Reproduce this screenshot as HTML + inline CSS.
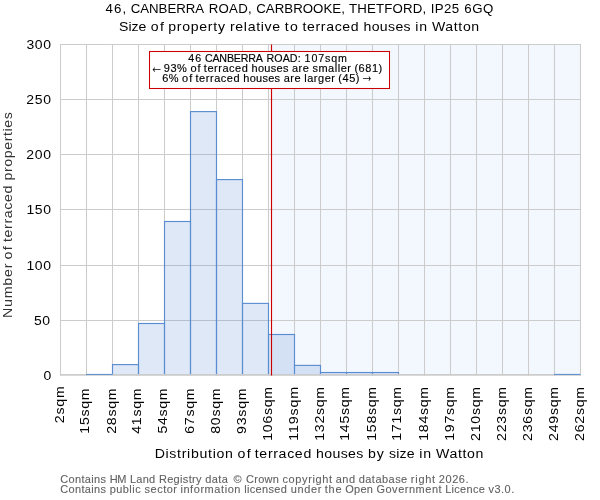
<!DOCTYPE html>
<html lang="en">
<head>
<meta charset="utf-8">
<title>Size of property relative to terraced houses in Watton</title>
<style>
html,body{margin:0;padding:0;background:#fff;}
body{width:600px;height:500px;overflow:hidden;font-family:"Liberation Sans", sans-serif;}
svg{display:block;will-change:transform;}
svg text{font-family:"Liberation Sans", sans-serif;}
</style>
</head>
<body>
<svg width="600" height="500" viewBox="0 0 600 500">
<rect x="0" y="0" width="600" height="500" fill="#ffffff"/>
<rect x="272.2" y="44.5" width="308.3" height="330.5" fill="rgba(100,149,237,0.075)"/>
<path d="M60.5 44.0V375.8M86.5 44.0V375.8M112.5 44.0V375.8M138.5 44.0V375.8M164.5 44.0V375.8M190.5 44.0V375.8M216.5 44.0V375.8M242.5 44.0V375.8M268.5 44.0V375.8M294.5 44.0V375.8M320.5 44.0V375.8M346.5 44.0V375.8M372.5 44.0V375.8M398.5 44.0V375.8M424.5 44.0V375.8M450.5 44.0V375.8M476.5 44.0V375.8M502.5 44.0V375.8M528.5 44.0V375.8M554.5 44.0V375.8M580.5 44.0V375.8M60.0 320.5H581.0M60.0 265.5H581.0M60.0 209.5H581.0M60.0 154.5H581.0M60.0 99.5H581.0M60.0 44.5H581.0" stroke="#cccccc" stroke-width="1.05" fill="none"/>
<rect x="112.5" y="364.60" width="26.0" height="10.00" fill="rgba(88,140,208,0.20)" stroke="#598cd0" stroke-width="1.12"/>
<rect x="138.5" y="323.50" width="26.0" height="51.10" fill="rgba(88,140,208,0.20)" stroke="#598cd0" stroke-width="1.12"/>
<rect x="164.5" y="221.50" width="26.0" height="153.10" fill="rgba(88,140,208,0.20)" stroke="#598cd0" stroke-width="1.12"/>
<rect x="190.5" y="111.60" width="26.0" height="263.00" fill="rgba(88,140,208,0.20)" stroke="#598cd0" stroke-width="1.12"/>
<rect x="216.5" y="179.60" width="26.0" height="195.00" fill="rgba(88,140,208,0.20)" stroke="#598cd0" stroke-width="1.12"/>
<rect x="242.5" y="303.40" width="26.0" height="71.20" fill="rgba(88,140,208,0.20)" stroke="#598cd0" stroke-width="1.12"/>
<rect x="268.5" y="334.50" width="26.0" height="40.10" fill="rgba(88,140,208,0.20)" stroke="#598cd0" stroke-width="1.12"/>
<rect x="294.5" y="365.40" width="26.0" height="9.20" fill="rgba(88,140,208,0.20)" stroke="#598cd0" stroke-width="1.12"/>
<rect x="320.5" y="372.50" width="26.0" height="2.10" fill="rgba(88,140,208,0.20)" stroke="#598cd0" stroke-width="1.12"/>
<rect x="346.5" y="372.50" width="26.0" height="2.10" fill="rgba(88,140,208,0.20)" stroke="#598cd0" stroke-width="1.12"/>
<rect x="372.5" y="372.50" width="26.0" height="2.10" fill="rgba(88,140,208,0.20)" stroke="#598cd0" stroke-width="1.12"/>
<path d="M60.0 374.9H581.0" stroke="#cccccc" stroke-width="1.9" fill="none"/>
<path d="M86.0 374.4H112.5" stroke="#598cd0" stroke-width="1.0" fill="none"/>
<path d="M554.0 374.4H580.5" stroke="#598cd0" stroke-width="1.0" fill="none"/>
<path d="M271.5 44.5V375.5" stroke="#cc0000" stroke-width="1.15" fill="none"/>
<rect x="149.5" y="51.5" width="240" height="37" fill="#ffffff" stroke="#cc0000" stroke-width="1.05"/>
<text x="150.0" y="72.5" font-size="20" fill="#000" textLength="13.3" lengthAdjust="spacingAndGlyphs">←</text>
<text x="360.2" y="82.4" font-size="20" fill="#000" textLength="13.3" lengthAdjust="spacingAndGlyphs">→</text>
<text transform="translate(105.80 12.90) scale(1.0244 1)" font-size="12.96" fill="#000"><tspan x="-0.30" y="0" textLength="20.35" lengthAdjust="spacing">46,</tspan> <tspan x="24.40" y="0" textLength="71.56" lengthAdjust="spacing">CANBERRA</tspan> <tspan x="100.43" y="0" textLength="42.01" lengthAdjust="spacing">ROAD,</tspan> <tspan x="146.78" y="0" textLength="86.66" lengthAdjust="spacing">CARBROOKE,</tspan> <tspan x="237.38" y="0" textLength="75.45" lengthAdjust="spacing">THETFORD,</tspan> <tspan x="317.20" y="0" textLength="27.71" lengthAdjust="spacing">IP25</tspan> <tspan x="349.92" y="0" textLength="28.39" lengthAdjust="spacing">6GQ</tspan></text>
<text transform="translate(119.70 30.80) scale(1.0863 1)" font-size="12.98" fill="#000"><tspan x="-0.59" y="0" textLength="25.07" lengthAdjust="spacing">Size</tspan> <tspan x="28.62" y="0" textLength="11.99" lengthAdjust="spacing">of</tspan> <tspan x="44.62" y="0" textLength="52.29" lengthAdjust="spacing">property</tspan> <tspan x="101.44" y="0" textLength="46.29" lengthAdjust="spacing">relative</tspan> <tspan x="151.87" y="0" textLength="12.14" lengthAdjust="spacing">to</tspan> <tspan x="168.21" y="0" textLength="51.80" lengthAdjust="spacing">terraced</tspan> <tspan x="224.44" y="0" textLength="43.36" lengthAdjust="spacing">houses</tspan> <tspan x="272.17" y="0" textLength="10.77" lengthAdjust="spacing">in</tspan> <tspan x="287.42" y="0" textLength="43.54" lengthAdjust="spacing">Watton</tspan></text>
<text transform="translate(155.80 457.80) scale(1.0859 1)" font-size="13.03" fill="#000"><tspan x="-1.07" y="0" textLength="72.04" lengthAdjust="spacing">Distribution</tspan> <tspan x="75.26" y="0" textLength="12.04" lengthAdjust="spacing">of</tspan> <tspan x="91.16" y="0" textLength="52.00" lengthAdjust="spacing">terraced</tspan> <tspan x="147.61" y="0" textLength="43.53" lengthAdjust="spacing">houses</tspan> <tspan x="195.51" y="0" textLength="14.59" lengthAdjust="spacing">by</tspan> <tspan x="214.69" y="0" textLength="23.67" lengthAdjust="spacing">size</tspan> <tspan x="242.69" y="0" textLength="10.81" lengthAdjust="spacing">in</tspan> <tspan x="258.00" y="0" textLength="43.70" lengthAdjust="spacing">Watton</tspan></text>
<text transform="translate(12.00 316.80) rotate(-90) scale(1.0878 1)" font-size="13.06" fill="#333"><tspan x="-1.07" y="0" textLength="49.96" lengthAdjust="spacing">Number</tspan> <tspan x="52.76" y="0" textLength="12.05" lengthAdjust="spacing">of</tspan> <tspan x="68.67" y="0" textLength="52.05" lengthAdjust="spacing">terraced</tspan> <tspan x="125.24" y="0" textLength="62.96" lengthAdjust="spacing">properties</tspan></text>
<text transform="translate(60.80 482.80) scale(1.0822 1)" font-size="10.16" fill="#626262" stroke="#626262" stroke-width="0.1"><tspan x="-0.52" y="0" textLength="42.38" lengthAdjust="spacing">Contains</tspan> <tspan x="45.18" y="0" textLength="15.44" lengthAdjust="spacing">HM</tspan> <tspan x="63.94" y="0" textLength="23.32" lengthAdjust="spacing">Land</tspan> <tspan x="90.68" y="0" textLength="39.34" lengthAdjust="spacing">Registry</tspan> <tspan x="133.49" y="0" textLength="20.87" lengthAdjust="spacing">data</tspan> <tspan x="159.51" y="0">©</tspan> <tspan x="171.14" y="0" textLength="30.39" lengthAdjust="spacing">Crown</tspan> <tspan x="204.88" y="0" textLength="45.72" lengthAdjust="spacing">copyright</tspan> <tspan x="253.99" y="0" textLength="17.88" lengthAdjust="spacing">and</tspan> <tspan x="275.29" y="0" textLength="44.82" lengthAdjust="spacing">database</tspan> <tspan x="323.47" y="0" textLength="22.44" lengthAdjust="spacing">right</tspan> <tspan x="349.35" y="0" textLength="27.46" lengthAdjust="spacing">2026.</tspan></text>
<text transform="translate(60.80 492.70) scale(1.0830 1)" font-size="10.13" fill="#626262" stroke="#626262" stroke-width="0.1"><tspan x="-0.51" y="0" textLength="42.26" lengthAdjust="spacing">Contains</tspan> <tspan x="45.15" y="0" textLength="28.56" lengthAdjust="spacing">public</tspan> <tspan x="77.36" y="0" textLength="29.93" lengthAdjust="spacing">sector</tspan> <tspan x="110.43" y="0" textLength="55.45" lengthAdjust="spacing">information</tspan> <tspan x="169.35" y="0" textLength="39.46" lengthAdjust="spacing">licensed</tspan> <tspan x="212.28" y="0" textLength="28.34" lengthAdjust="spacing">under</tspan> <tspan x="243.64" y="0" textLength="15.71" lengthAdjust="spacing">the</tspan> <tspan x="262.55" y="0" textLength="25.62" lengthAdjust="spacing">Open</tspan> <tspan x="291.44" y="0" textLength="60.15" lengthAdjust="spacing">Government</tspan> <tspan x="354.94" y="0" textLength="36.58" lengthAdjust="spacing">Licence</tspan> <tspan x="394.91" y="0" textLength="23.82" lengthAdjust="spacing">v3.0.</tspan></text>
<text transform="translate(188.50 62.20) scale(1.0415 1)" font-size="10.26" fill="#000" stroke="#000" stroke-width="0.14"><tspan x="-0.24" y="0" textLength="12.51" lengthAdjust="spacing">46</tspan> <tspan x="15.75" y="0" textLength="55.71" lengthAdjust="spacing">CANBERRA</tspan> <tspan x="74.92" y="0" textLength="32.74" lengthAdjust="spacing">ROAD:</tspan> <tspan x="111.49" y="0" textLength="40.61" lengthAdjust="spacing">107sqm</tspan></text>
<text transform="translate(164.30 72.00) scale(1.0821 1)" font-size="10.15" fill="#000" stroke="#000" stroke-width="0.14"><tspan x="-0.48" y="0" textLength="21.24" lengthAdjust="spacing">93%</tspan> <tspan x="24.13" y="0" textLength="9.41" lengthAdjust="spacing">of</tspan> <tspan x="36.56" y="0" textLength="40.63" lengthAdjust="spacing">terraced</tspan> <tspan x="80.67" y="0" textLength="34.01" lengthAdjust="spacing">houses</tspan> <tspan x="118.01" y="0" textLength="15.47" lengthAdjust="spacing">are</tspan> <tspan x="136.87" y="0" textLength="35.70" lengthAdjust="spacing">smaller</tspan> <tspan x="175.69" y="0" textLength="25.66" lengthAdjust="spacing">(681)</tspan></text>
<text transform="translate(162.70 81.80) scale(1.0820 1)" font-size="10.15" fill="#000" stroke="#000" stroke-width="0.14"><tspan x="-0.52" y="0" textLength="15.06" lengthAdjust="spacing">6%</tspan> <tspan x="17.91" y="0" textLength="9.41" lengthAdjust="spacing">of</tspan> <tspan x="30.34" y="0" textLength="40.66" lengthAdjust="spacing">terraced</tspan> <tspan x="74.49" y="0" textLength="34.03" lengthAdjust="spacing">houses</tspan> <tspan x="111.87" y="0" textLength="15.48" lengthAdjust="spacing">are</tspan> <tspan x="130.72" y="0" textLength="28.52" lengthAdjust="spacing">larger</tspan> <tspan x="162.36" y="0" textLength="19.51" lengthAdjust="spacing">(45)</tspan></text>
<text transform="translate(44.00 380.10) scale(1.0877 1)" font-size="12.86" fill="#000"><tspan x="-0.50" y="0">0</tspan></text>
<text transform="translate(34.59 325.20) scale(1.0877 1)" font-size="12.86" fill="#000"><tspan x="-0.51" y="0" textLength="14.82" lengthAdjust="spacing">50</tspan></text>
<text transform="translate(27.46 270.00) scale(1.0877 1)" font-size="12.86" fill="#000"><tspan x="-0.98" y="0" textLength="22.67" lengthAdjust="spacing">100</tspan></text>
<text transform="translate(27.46 214.20) scale(1.0877 1)" font-size="12.86" fill="#000"><tspan x="-0.98" y="0" textLength="22.67" lengthAdjust="spacing">150</tspan></text>
<text transform="translate(26.97 159.20) scale(1.0877 1)" font-size="12.86" fill="#000"><tspan x="-0.65" y="0" textLength="22.78" lengthAdjust="spacing">200</tspan></text>
<text transform="translate(26.97 104.10) scale(1.0877 1)" font-size="12.86" fill="#000"><tspan x="-0.65" y="0" textLength="22.78" lengthAdjust="spacing">250</tspan></text>
<text transform="translate(27.01 49.20) scale(1.0877 1)" font-size="12.86" fill="#000"><tspan x="-0.49" y="0" textLength="22.59" lengthAdjust="spacing">300</tspan></text>
<text transform="translate(63.90 422.51) rotate(-90) scale(1.0816 1)" font-size="13.05" fill="#000"><tspan x="-0.66" y="0" textLength="34.07" lengthAdjust="spacing">2sqm</tspan></text>
<text transform="translate(88.70 432.60) rotate(-90) scale(1.0827 1)" font-size="13.05" fill="#000"><tspan x="-1.00" y="0" textLength="41.85" lengthAdjust="spacing">15sqm</tspan></text>
<text transform="translate(115.90 433.10) rotate(-90) scale(1.0827 1)" font-size="13.05" fill="#000"><tspan x="-0.66" y="0" textLength="41.97" lengthAdjust="spacing">28sqm</tspan></text>
<text transform="translate(140.50 433.43) rotate(-90) scale(1.0827 1)" font-size="13.05" fill="#000"><tspan x="-0.30" y="0" textLength="41.92" lengthAdjust="spacing">41sqm</tspan></text>
<text transform="translate(166.70 433.04) rotate(-90) scale(1.0827 1)" font-size="13.05" fill="#000"><tspan x="-0.52" y="0" textLength="41.79" lengthAdjust="spacing">54sqm</tspan></text>
<text transform="translate(193.90 433.14) rotate(-90) scale(1.0827 1)" font-size="13.05" fill="#000"><tspan x="-0.66" y="0" textLength="42.02" lengthAdjust="spacing">67sqm</tspan></text>
<text transform="translate(219.70 433.17) rotate(-90) scale(1.0827 1)" font-size="13.05" fill="#000"><tspan x="-0.57" y="0" textLength="41.95" lengthAdjust="spacing">80sqm</tspan></text>
<text transform="translate(245.50 433.24) rotate(-90) scale(1.0827 1)" font-size="13.05" fill="#000"><tspan x="-0.61" y="0" textLength="42.05" lengthAdjust="spacing">93sqm</tspan></text>
<text transform="translate(271.70 439.69) rotate(-90) scale(1.0835 1)" font-size="13.05" fill="#000"><tspan x="-1.00" y="0" textLength="49.75" lengthAdjust="spacing">106sqm</tspan></text>
<text transform="translate(298.00 439.69) rotate(-90) scale(1.0950 1)" font-size="13.05" fill="#000"><tspan x="-1.00" y="0" textLength="49.25" lengthAdjust="spacing">119sqm</tspan></text>
<text transform="translate(323.90 439.69) rotate(-90) scale(1.0835 1)" font-size="13.05" fill="#000"><tspan x="-1.00" y="0" textLength="49.75" lengthAdjust="spacing">132sqm</tspan></text>
<text transform="translate(348.90 439.69) rotate(-90) scale(1.0835 1)" font-size="13.05" fill="#000"><tspan x="-1.00" y="0" textLength="49.75" lengthAdjust="spacing">145sqm</tspan></text>
<text transform="translate(375.50 439.69) rotate(-90) scale(1.0835 1)" font-size="13.05" fill="#000"><tspan x="-1.00" y="0" textLength="49.75" lengthAdjust="spacing">158sqm</tspan></text>
<text transform="translate(400.50 439.69) rotate(-90) scale(1.0835 1)" font-size="13.05" fill="#000"><tspan x="-1.00" y="0" textLength="49.75" lengthAdjust="spacing">171sqm</tspan></text>
<text transform="translate(428.00 439.69) rotate(-90) scale(1.0835 1)" font-size="13.05" fill="#000"><tspan x="-1.00" y="0" textLength="49.75" lengthAdjust="spacing">184sqm</tspan></text>
<text transform="translate(453.90 439.69) rotate(-90) scale(1.0835 1)" font-size="13.05" fill="#000"><tspan x="-1.00" y="0" textLength="49.75" lengthAdjust="spacing">197sqm</tspan></text>
<text transform="translate(479.70 440.19) rotate(-90) scale(1.0835 1)" font-size="13.05" fill="#000"><tspan x="-0.66" y="0" textLength="49.87" lengthAdjust="spacing">210sqm</tspan></text>
<text transform="translate(506.00 440.19) rotate(-90) scale(1.0835 1)" font-size="13.05" fill="#000"><tspan x="-0.66" y="0" textLength="49.87" lengthAdjust="spacing">223sqm</tspan></text>
<text transform="translate(532.20 440.19) rotate(-90) scale(1.0835 1)" font-size="13.05" fill="#000"><tspan x="-0.66" y="0" textLength="49.87" lengthAdjust="spacing">236sqm</tspan></text>
<text transform="translate(557.70 440.19) rotate(-90) scale(1.0835 1)" font-size="13.05" fill="#000"><tspan x="-0.66" y="0" textLength="49.87" lengthAdjust="spacing">249sqm</tspan></text>
<text transform="translate(584.20 440.19) rotate(-90) scale(1.0835 1)" font-size="13.05" fill="#000"><tspan x="-0.66" y="0" textLength="49.87" lengthAdjust="spacing">262sqm</tspan></text>
</svg>
</body>
</html>
